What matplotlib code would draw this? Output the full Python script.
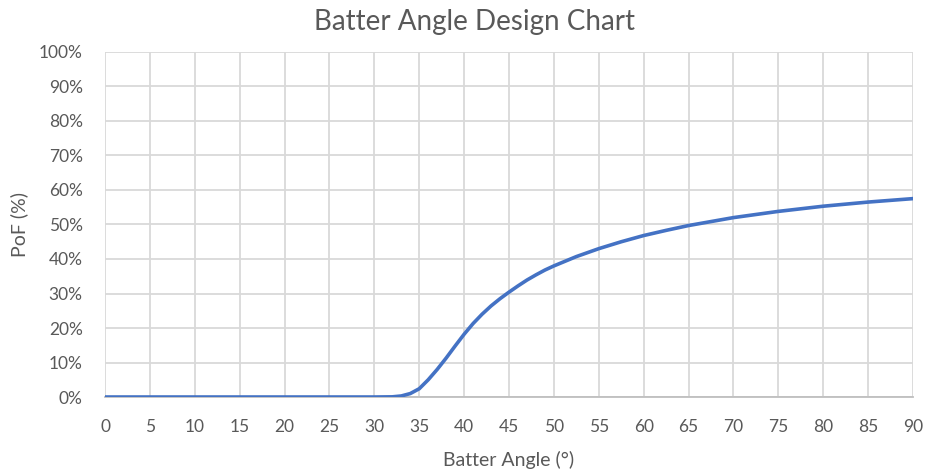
import matplotlib
matplotlib.use("Agg")
import matplotlib.pyplot as plt
from matplotlib.ticker import FuncFormatter

# data
angle = [0, 5, 10, 15, 20, 25, 30, 32, 33, 34, 35, 36, 37, 38, 39, 40, 41, 42, 43, 44,
         45, 46, 47, 48, 49, 50, 52.5, 55, 57.5, 60, 62.5, 65, 70, 75, 80, 85, 90]
pof = [0, 0, 0, 0, 0, 0, 0, 0.05, 0.3, 1.0, 2.4, 5.0, 8.0, 11.3, 14.8, 18.2, 21.3, 24.0, 26.4, 28.5,
       30.4, 32.2, 33.9, 35.4, 36.8, 38.0, 40.7, 43.0, 45.0, 46.8, 48.3, 49.7, 52.0, 53.8, 55.3, 56.5, 57.5]
x_ticks = list(range(0, 91, 5))
y_ticks = list(range(0, 101, 10))

plt.rcParams["font.family"] = ["Lato", "DejaVu Sans"]
label_col = "#595959"
grid_col = "#d9d9d9"

fig = plt.figure(figsize=(9.26, 4.70), dpi=100)
ax = fig.add_axes([0.1134, 0.1553, 0.8726, 0.7341])

ax.plot(angle, pof, color="#4472c4", lw=2.6, solid_capstyle="round", zorder=3)

ax.set_xlim(0, 90)
ax.set_ylim(0, 100)
ax.set_xticks(x_ticks)
ax.set_yticks(y_ticks)
ax.yaxis.set_major_formatter(FuncFormatter(lambda v, _: f"{v:.0f}%"))
ax.grid(True, color=grid_col, lw=1.3)
ax.set_axisbelow(True)

for side in ["top", "right", "left"]:
    ax.spines[side].set_visible(False)
ax.spines["bottom"].set_color("#bfbfbf")
ax.spines["bottom"].set_linewidth(1.3)

ax.tick_params(axis="both", length=0, labelsize=12.5, colors=label_col)
ax.tick_params(axis="x", pad=16)
ax.tick_params(axis="y", pad=16)

ax.set_xlabel("Batter Angle (°)", fontsize=14, color=label_col, labelpad=11)
ax.set_ylabel("PoF (%)", fontsize=14, color=label_col, labelpad=8)
fig.suptitle("Batter Angle Design Chart", fontsize=20, color=label_col, x=0.512, y=0.98)

fig.savefig("out.png", dpi=100)
